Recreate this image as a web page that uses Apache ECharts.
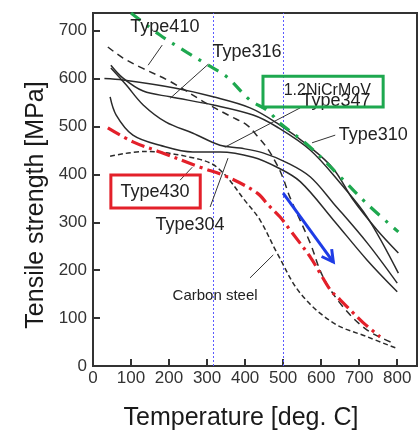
<!DOCTYPE html>
<html><head><meta charset="utf-8">
<script src="https://cdn.jsdelivr.net/npm/echarts@6/dist/echarts.min.js"></script>
<style>html,body{margin:0;padding:0;background:#fff}#c{width:419px;height:432px}</style>
</head><body><div id="c"></div>
<script>
// ---- data (temperature °C, tensile strength MPa) ----
const xTicks = [0, 100, 200, 300, 400, 500, 600, 700, 800];
const yTicks = [0, 100, 200, 300, 400, 500, 600, 700];
const type310 = [[30,600],[79,597],[218,580],[316,562],[413,539],[484,507],[571,457],[632,412],[684,347],[747,284],[803,236]];
const type316 = [[47,628],[79,601],[132,574],[203,562],[316,545],[421,524],[484,499],[571,451],[650,382],[721,311],[803,194]];
const type347 = [[47,622],[87,587],[132,545],[192,509],[263,486],[334,461],[387,455],[447,445],[511,424],[571,395],[632,340],[721,257],[800,173]];
const type304 = [[45,562],[61,524],[105,482],[176,461],[263,447],[334,447],[421,436],[484,415],[545,385],[632,305],[721,221],[800,155]];
const type410 = [[39,666],[79,643],[124,624],[203,594],[297,549],[360,522],[405,503],[432,480],[458,455],[484,420],[500,392],[518,352],[571,257],[605,186],[658,123],[721,75],[789,48]];
const type430 = [[39,497],[105,468],[176,447],[282,415],[353,395],[432,361],[461,336],[492,311],[518,284],[571,228],[597,194],[624,159],[650,138],[684,111],[711,90],[755,61]];
const carbonSteel = [[45,438],[137,448],[255,436],[326,415],[405,340],[439,305],[484,236],[545,152],[632,90],[721,61],[795,38]];
const niCrMoV = [[100,737],[176,691],[247,655],[303,628],[353,603],[413,555],[458,534],[492,507],[571,457],[650,395],[724,336],[803,280]];
const refTemps = [315, 500];

// ---- annotations (data coordinates) ----
const labels = [
  {text:'Type410', at:[189,708]},
  {text:'Type316', at:[405,656]},
  {text:'Type347', at:[639,553]},
  {text:'Type310', at:[737,482]},
  {text:'Type304', at:[255,294]},
  {text:'Carbon steel', at:[321,146], small:true}
];
const boxes = [
  {text:'1.2NiCrMoV', at:[616,576], corners:[[447,605],[763,541]], color:'#1ea84f'},
  {text:'Type430', at:[163,363], corners:[[47,399],[282,330]], color:'#e3202a'}
];
const leaders = [
  [[182,670],[145,628]],
  [[303,630],[203,559]],
  [[545,539],[347,457]],
  [[637,482],[576,466]],
  [[229,388],[261,415]],
  [[308,332],[355,434]],
  [[413,184],[474,232]]
];
const trendArrow = [[500,361],[632,217]];

const FONT = '"Liberation Sans", Arial, sans-serif';
const chart = echarts.init(document.getElementById('c'), null, {renderer:'canvas'});

function line(name, data, color, width, type) {
  return {name, type:'line', data, smooth:0.35, showSymbol:false, symbol:'none',
    lineStyle:{color, width, type}, z:3, animation:false};
}
const series = [
  line('Type310', type310, '#2b2b2b', 1.5, 'solid'),
  line('Type316', type316, '#2b2b2b', 1.5, 'solid'),
  line('Type347', type347, '#2b2b2b', 1.5, 'solid'),
  line('Type304', type304, '#2b2b2b', 1.5, 'solid'),
  line('Type410', type410, '#2b2b2b', 1.5, [7,5]),
  line('Carbon steel', carbonSteel, '#2b2b2b', 1.5, [5,3]),
  line('Type430', type430, '#e3202a', 3.2, [14,5,3,5]),
  line('1.2NiCrMoV', niCrMoV, '#1ea84f', 3.2, [12,8,3,8])
];

chart.setOption({
  animation:false,
  grid:{left:93, top:13, right:2, bottom:66, show:true, borderColor:'#333', borderWidth:2},
  xAxis:{type:'value', min:0, max:852, interval:100,
    axisLine:{show:true, lineStyle:{color:'#333', width:2}},
    axisTick:{show:true, inside:true, length:7, lineStyle:{color:'#333', width:2}},
    axisLabel:{show:true, showMaxLabel:false, margin:4, fontSize:17, color:'#333', fontFamily:FONT,
      formatter: v => xTicks.includes(v) ? String(v) : ''},
    splitLine:{show:false}},
  yAxis:{type:'value', min:0, max:737, interval:100,
    axisLine:{show:true, lineStyle:{color:'#333', width:2}},
    axisTick:{show:true, inside:true, length:7, lineStyle:{color:'#333', width:2}},
    axisLabel:{show:true, showMaxLabel:false, margin:6, fontSize:17, color:'#333', fontFamily:FONT,
      formatter: v => yTicks.includes(v) ? String(v) : ''},
    splitLine:{show:false}},
  series
});

const P = p => chart.convertToPixel({gridIndex:0}, p);
const g = [];
function txt(text, pt, size, z) {
  return {type:'text', z:z||10, x:pt[0], y:pt[1],
    style:{text, fill:'#222', font:size+'px '+FONT, align:'center', verticalAlign:'middle',
      textAlign:'center', textVerticalAlign:'middle'}};
}
// dotted reference temperatures
refTemps.forEach(t => {
  const a = P([t, 0]), b = P([t, 737]);
  const x = Math.round(a[0]) + 0.5;
  g.push({type:'line', z:2, shape:{x1:x,y1:a[1],x2:x,y2:b[1]},
    style:{stroke:'#5a5aff', lineWidth:1, lineDash:[2,2]}});
});
leaders.forEach(l => {
  const a = P(l[0]), b = P(l[1]);
  g.push({type:'line', z:9, shape:{x1:a[0],y1:a[1],x2:b[0],y2:b[1]}, style:{stroke:'#333', lineWidth:1}});
});
labels.forEach(l => g.push(txt(l.text, P(l.at), l.small ? 15 : 18)));
boxes.forEach(b => {
  const a = P(b.corners[0]), c = P(b.corners[1]);
  g.push({type:'rect', z:11, shape:{x:a[0], y:a[1], width:c[0]-a[0], height:c[1]-a[1]},
    style:{fill:'rgba(255,255,255,0)', stroke:b.color, lineWidth:3}});
  g.push(txt(b.text, P(b.at), b.text.length > 8 ? 16 : 18, 12));
});
// blue trend arrow
(function(){
  const a = P(trendArrow[0]), b = P(trendArrow[1]);
  const ang = Math.atan2(b[1]-a[1], b[0]-a[0]);
  const L = 13, spread = 0.5;
  const h1 = [b[0]-L*Math.cos(ang-spread), b[1]-L*Math.sin(ang-spread)];
  const h2 = [b[0]-L*Math.cos(ang+spread), b[1]-L*Math.sin(ang+spread)];
  g.push({type:'line', z:9, shape:{x1:a[0],y1:a[1],x2:b[0],y2:b[1]}, style:{stroke:'#1e3ce6', lineWidth:3}});
  g.push({type:'polyline', z:9, shape:{points:[h1,b,h2]}, style:{stroke:'#1e3ce6', lineWidth:3, fill:null}});
})();
// axis titles
g.push({type:'text', z:10, x:241, y:418, style:{text:'Temperature [deg. C]', fill:'#1a1a1a', font:'25px '+FONT,
  align:'center', verticalAlign:'middle', textAlign:'center', textVerticalAlign:'middle'}});
g.push({type:'text', z:10, x:36, y:205, rotation:Math.PI/2, style:{text:'Tensile strength [MPa]', fill:'#1a1a1a', font:'25px '+FONT,
  align:'center', verticalAlign:'middle', textAlign:'center', textVerticalAlign:'middle'}});
chart.setOption({graphic:{elements:g}});
</script>
</body></html>
